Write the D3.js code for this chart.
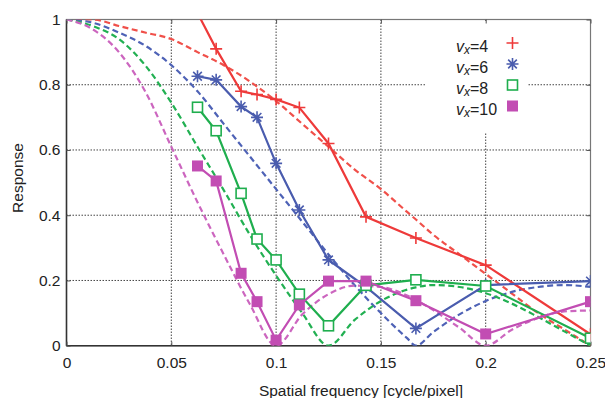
<!DOCTYPE html>
<html><head><meta charset="utf-8">
<script src="https://cdn.jsdelivr.net/npm/d3@7/dist/d3.min.js"></script>
<style>
html,body{margin:0;padding:0;background:#fff;}
svg{display:block;font-family:"Liberation Sans",Arial,sans-serif;}
</style></head>
<body><svg id="c" width="605" height="398"></svg>
<script>
// ---- data ----
const measFreq = [0.0625, 0.0714, 0.0833, 0.0909, 0.1, 0.1111, 0.125, 0.1429, 0.1667, 0.2, 0.25];
const meas4  = [1.02, 0.91, 0.78, 0.77, 0.755, 0.73, 0.62, 0.395, 0.33, 0.247, 0.035];
const meas6  = [0.826, 0.815, 0.733, 0.70, 0.559, 0.416, 0.263, 0.18, 0.053, 0.186, 0.198];
const meas8  = [0.731, 0.659, 0.467, 0.327, 0.263, 0.158, 0.061, 0.185, 0.202, 0.183, 0.023];
const meas10 = [0.551, 0.505, 0.222, 0.135, 0.017, 0.125, 0.198, 0.198, 0.138, 0.036, 0.135];

const theoFreq = [0, 0.0125, 0.025, 0.0375, 0.05, 0.0625, 0.075, 0.0875, 0.1, 0.1125, 0.125, 0.1375, 0.15, 0.1625, 0.1667, 0.175, 0.1875, 0.2, 0.2125, 0.225, 0.2375, 0.25];
const theo4  = [1, 1.00, 0.98, 0.96, 0.94, 0.90, 0.86, 0.81, 0.75, 0.68, 0.61, 0.54, 0.48, 0.41, 0.387, 0.34, 0.28, 0.22, 0.16, 0.10, 0.05, 0];
const theo6  = [1, 0.99, 0.96, 0.92, 0.86, 0.78, 0.68, 0.58, 0.48, 0.38, 0.28, 0.185, 0.10, 0.023, 0, 0.042, 0.096, 0.137, 0.165, 0.18, 0.186, 0.18];
const theo8  = [1, 0.98, 0.94, 0.86, 0.745, 0.61, 0.477, 0.34, 0.215, 0.10, 0, 0.079, 0.137, 0.172, 0.179, 0.186, 0.18, 0.161, 0.129, 0.088, 0.044, 0];
const theo10 = [1, 0.97, 0.90, 0.78, 0.61, 0.44, 0.28, 0.127, 0, 0.096, 0.158, 0.184, 0.18, 0.154, 0.141, 0.109, 0.055, 0, 0.049, 0.085, 0.105, 0.108];

const seriesNames = ["4", "6", "8", "10"];
const seriesColors = ["#ee3a3a", "#4a5cae", "#1fae4e", "#c24db3"];
const dashColors = ["#f0504a", "#4e62b6", "#22b052", "#cc66bf"];
const markerTypes = ["plus", "star", "openSquare", "filledSquare"];
const xTicks = [0, 0.05, 0.1, 0.15, 0.2, 0.25];
const yTicks = [0, 0.2, 0.4, 0.6, 0.8, 1];
const xLabel = "Spatial frequency [cycle/pixel]";
const yLabel = "Response";

// ---- chart ----
const svg = d3.select("#c");
const L = 66.5, R = 590.5, T = 19.5, B = 345.7;
const x = d3.scaleLinear().domain([0, 0.25]).range([L, R]);
const y = d3.scaleLinear().domain([0, 1]).range([B, T]);

svg.append("clipPath").attr("id", "clip").append("rect")
  .attr("x", L).attr("y", T).attr("width", R - L).attr("height", B - T);

// grid
const grid = svg.append("g").attr("stroke", "#444").attr("stroke-width", 1)
  .attr("stroke-dasharray", "1.5,1.5");
xTicks.slice(1, -1).forEach(v => grid.append("line")
  .attr("x1", x(v)).attr("x2", x(v)).attr("y1", T).attr("y2", B));
yTicks.slice(1, -1).forEach(v => grid.append("line")
  .attr("x1", L).attr("x2", R).attr("y1", y(v)).attr("y2", y(v)));

// legend background
svg.append("rect").attr("x", 425).attr("y", 22).attr("width", 103).attr("height", 110).attr("fill", "#fff");

// frame
svg.append("rect").attr("x", L).attr("y", T).attr("width", R - L).attr("height", B - T)
  .attr("fill", "none").attr("stroke", "#777").attr("stroke-width", 1.2);
svg.append("line").attr("x1", L).attr("x2", R).attr("y1", B).attr("y2", B).attr("stroke", "#333").attr("stroke-width", 1.5);
svg.append("line").attr("x1", L).attr("x2", L).attr("y1", T).attr("y2", B).attr("stroke", "#333").attr("stroke-width", 1.5);

// axes (labels + inward ticks)
const xAxis = svg.append("g").attr("transform", `translate(0,${B})`)
  .call(d3.axisBottom(x).tickValues(xTicks).tickSize(-4).tickPadding(11).tickFormat(d => d === 0 ? "0" : d3.format("")(d)));
const yAxis = svg.append("g").attr("transform", `translate(${L},0)`)
  .call(d3.axisLeft(y).tickValues(yTicks).tickSize(-4).tickPadding(6).tickFormat(d => d3.format("")(d)));
svg.append("g").attr("transform", `translate(0,${T})`)
  .call(d3.axisTop(x).tickValues(xTicks).tickSize(-4).tickFormat(""));
svg.append("g").attr("transform", `translate(${R},0)`)
  .call(d3.axisRight(y).tickValues(yTicks).tickSize(-4).tickFormat(""));
svg.selectAll(".domain").remove();
svg.selectAll(".tick line").attr("stroke", "#555");
svg.selectAll(".tick text").attr("font-size", 15.5).attr("fill", "#222").attr("font-family", "Liberation Sans, Arial, sans-serif");

svg.append("text").attr("x", 361).attr("y", 396).attr("text-anchor", "middle")
  .attr("font-size", 15.5).attr("fill", "#222").text(xLabel);
svg.append("text").attr("transform", "translate(23,178) rotate(-90)").attr("text-anchor", "middle")
  .attr("font-size", 15.5).attr("fill", "#222").text(yLabel);

// lines
const plot = svg.append("g").attr("clip-path", "url(#clip)");
const theoVals = [theo4, theo6, theo8, theo10];
const measVals = [meas4, meas6, meas8, meas10];
const dashLine = d3.line().x(d => x(d[0])).y(d => y(d[1])).curve(d3.curveMonotoneX);
const solidLine = d3.line().x(d => x(d[0])).y(d => y(d[1]));

theoVals.forEach((vals, i) => {
  plot.append("path").datum(theoFreq.map((f, j) => [f, vals[j]]))
    .attr("d", dashLine).attr("fill", "none").attr("stroke", dashColors[i])
    .attr("stroke-width", 2.2).attr("stroke-dasharray", "6,3.5");
});
measVals.forEach((vals, i) => {
  plot.append("path").datum(measFreq.map((f, j) => [f, vals[j]]))
    .attr("d", solidLine).attr("fill", "none").attr("stroke", seriesColors[i])
    .attr("stroke-width", 2.2);
});

function marker(g, type, cx, cy, color) {
  const s = 6;
  if (type === "plus") {
    g.append("path").attr("d", `M${cx - s},${cy}H${cx + s}M${cx},${cy - s}V${cy + s}`)
      .attr("stroke", color).attr("stroke-width", 1.6).attr("fill", "none");
  } else if (type === "star") {
    const d = s * 0.72;
    g.append("path").attr("d", `M${cx - s},${cy}H${cx + s}M${cx},${cy - s}V${cy + s}M${cx - d},${cy - d}L${cx + d},${cy + d}M${cx - d},${cy + d}L${cx + d},${cy - d}`)
      .attr("stroke", color).attr("stroke-width", 1.6).attr("fill", "none");
  } else if (type === "openSquare") {
    g.append("rect").attr("x", cx - 5).attr("y", cy - 5).attr("width", 10).attr("height", 10)
      .attr("fill", "#fff").attr("stroke", color).attr("stroke-width", 1.6);
  } else {
    g.append("rect").attr("x", cx - 5.5).attr("y", cy - 5.5).attr("width", 11).attr("height", 11)
      .attr("fill", color).attr("stroke", "none");
  }
}
measVals.forEach((vals, i) => {
  measFreq.forEach((f, j) => {
    if (vals[j] <= 1) marker(plot, markerTypes[i], x(f), y(vals[j]), seriesColors[i]);
  });
});

// legend
const leg = svg.append("g");
const legY = [47, 68, 89, 110];
seriesNames.forEach((n, i) => {
  const t = leg.append("text").attr("x", 456).attr("y", legY[i] + 5).attr("font-size", 16).attr("fill", "#222");
  t.append("tspan").attr("font-style", "italic").text("v");
  t.append("tspan").attr("font-style", "italic").attr("font-size", 12).attr("dy", 2).text("x");
  t.append("tspan").attr("dy", -2).text("=" + n);
  marker(leg, markerTypes[i], 512.5, legY[i] - 4, seriesColors[i]);
});
</script></body></html>
